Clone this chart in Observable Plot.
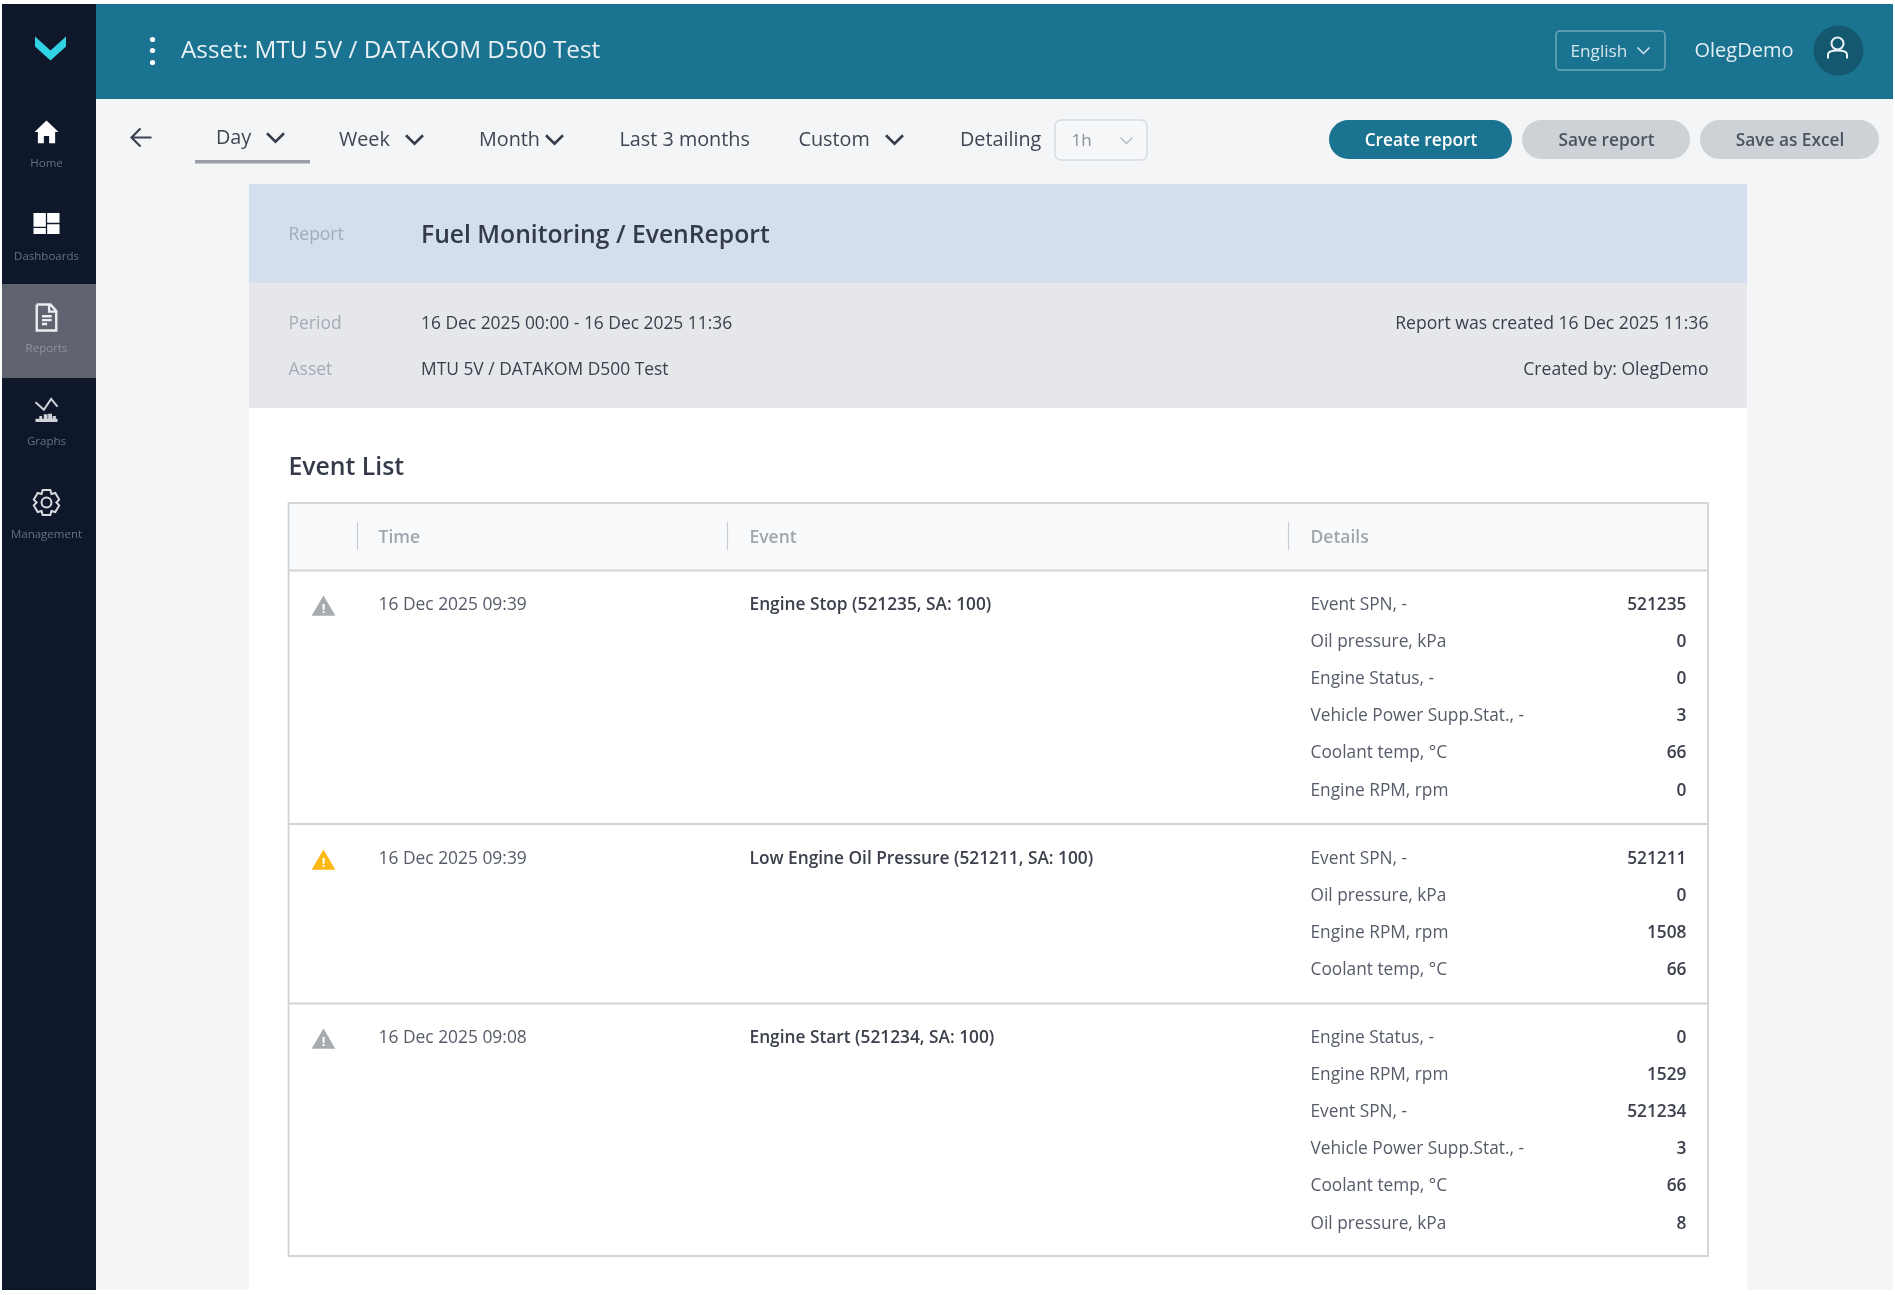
<!DOCTYPE html>
<html><head><meta charset="utf-8">
<style>html,body{margin:0;padding:0;background:#fff;overflow:hidden}svg{display:block;filter:blur(0.45px)}</style>
<script src="https://cdn.jsdelivr.net/npm/d3@7"></script>
<script src="https://cdn.jsdelivr.net/npm/@observablehq/plot@0.6"></script>
</head><body><div id="app"></div>
<script>
// ---- content
const navLabels = ["Home","Dashboards","Reports","Graphs","Management"];
const assetTitle = "Asset: MTU 5V / DATAKOM D500 Test";
const language = "English";
const userName = "OlegDemo";
const periodTabs = ["Day","Week","Month","Last 3 months","Custom","Detailing"];
const detailingValue = "1h";
const buttonLabels = ["Create report","Save report","Save as Excel"];
const reportTitle = "Fuel Monitoring / EvenReport";
const metaLabels = ["Report","Period","Asset"];
const metaValues = ["16 Dec 2025 00:00 - 16 Dec 2025 11:36","MTU 5V / DATAKOM D500 Test"];
const metaRight = ["Report was created 16 Dec 2025 11:36","Created by: OlegDemo"];
const sectionTitle = "Event List";
const tableHeaders = ["Time","Event","Details"];
const eventTimes = ["16 Dec 2025 09:39","16 Dec 2025 09:39","16 Dec 2025 09:08"];
const eventNames = ["Engine Stop (521235, SA: 100)","Low Engine Oil Pressure (521211, SA: 100)","Engine Start (521234, SA: 100)"];
const eventLevels = ["info","warning","info"];
const detailNames1 = ["Event SPN, -","Oil pressure, kPa","Engine Status, -","Vehicle Power Supp.Stat., -","Coolant temp, °C","Engine RPM, rpm"];
const detailValues1 = [521235,0,0,3,66,0];
const detailNames2 = ["Event SPN, -","Oil pressure, kPa","Engine RPM, rpm","Coolant temp, °C"];
const detailValues2 = [521211,0,1508,66];
const detailNames3 = ["Engine Status, -","Engine RPM, rpm","Event SPN, -","Vehicle Power Supp.Stat., -","Coolant temp, °C","Oil pressure, kPa"];
const detailValues3 = [0,1529,521234,3,66,8];

// ---- layout helpers
const FONT = "Open Sans";
const poly = pts => ({draw(c,size){const k=Math.sqrt(size/Math.PI);pts.forEach((p,i)=>i?c.lineTo(p[0]*k,p[1]*k):c.moveTo(p[0]*k,p[1]*k));c.closePath();}});
const open = paths => ({draw(c,size){const k=Math.sqrt(size/Math.PI);paths.forEach(pts=>pts.forEach((p,i)=>i?c.lineTo(p[0]*k,p[1]*k):c.moveTo(p[0]*k,p[1]*k)));}});
const blocks = rs => ({draw(c,size){const k=Math.sqrt(size/Math.PI);rs.forEach(([a,b,w,h])=>{c.moveTo(a*k,b*k);c.lineTo((a+w)*k,b*k);c.lineTo((a+w)*k,(b+h)*k);c.lineTo(a*k,(b+h)*k);c.closePath();});}});
const rawSym = fn => ({draw(c,size){fn(c,Math.sqrt(size/Math.PI));}});

const logoSym = poly([[-1,-.77],[0,.13],[1,-.77],[1,-.13],[0,.77],[-1,-.13]]);
const homeSym = poly([[0,-1],[1,-.05],[.72,-.05],[.72,.9],[.22,.9],[.22,.3],[-.22,.3],[-.22,.9],[-.72,.9],[-.72,-.05],[-1,-.05]]);
const dashSym = blocks([[-1,-.8,.95,1.05],[.05,-.8,.95,.75],[-1,.35,.95,.45],[.05,.05,.95,.75]]);
const chevSym = open([[[-1,-.5],[0,.5],[1,-.5]]]);
const arrowSym = open([[[1,0],[-1,0]],[[-.1,-.9],[-1,0],[-.1,.9]]]);
const docSym = open([[[-.75,-1],[.3,-1],[.75,-.5],[.75,1],[-.75,1],[-.75,-1]],[[-.35,-.1],[.4,-.1]],[[-.35,.2],[.4,.2]],[[-.35,.5],[.05,.5]],[[.2,-.95],[.2,-.45],[.7,-.45]]]);
const graphLine = open([[[-1,-.76],[-.24,-.06],[.42,-1.06],[1,-.36]]]);
const graphBars = blocks([[-1,.75,2,.3],[-.65,.5,.25,.3],[-.25,.35,.35,.45],[.15,.3,.35,.5],[.55,.5,.3,.3]]);
const gearSym = rawSym((c,k)=>{
  const n=6,pts=[];
  for(let i=0;i<n;i++){const a=i*Math.PI*2/n-Math.PI/2;const w=.3;
    pts.push([Math.cos(a-w)*1,Math.sin(a-w)*1],[Math.cos(a+w)*1,Math.sin(a+w)*1],[Math.cos(a+Math.PI/n)*.76,Math.sin(a+Math.PI/n)*.76]);}
  pts.forEach((p,i)=>i?c.lineTo(p[0]*k,p[1]*k):c.moveTo(p[0]*k,p[1]*k));c.closePath();
  c.moveTo(.38*k,0);c.arc(0,0,.38*k,0,Math.PI*2);
});
const triSym = poly([[0,-1],[1.08,.85],[-1.08,.85]]);
const userSym = rawSym((c,k)=>{
  c.moveTo(.6*k,-.5*k);c.arc(0,-.5*k,.6*k,0,Math.PI*2);
  c.moveTo(-.95*k,1*k);c.lineTo(-.95*k,.6*k);c.bezierCurveTo(-.95*k,.25*k,-.5*k,.2*k,0,.2*k);c.bezierCurveTo(.5*k,.2*k,.95*k,.25*k,.95*k,.6*k);c.lineTo(.95*k,1*k);
});

const box = (x1,x2,y1,y2,fill,o={}) => Plot.rect([0],{x1:[x1],x2:[x2],y1:[y1],y2:[y2],fill,...o});
const icon = (x,y,r,symbol,o) => Plot.dot([0],{x:[x],y:[y],r,symbol,fill:"none",...o});
const label = (texts,xs,ys,o) => Plot.text(texts,{x:(d,i)=>typeof xs==="number"?xs:xs[i],y:(d,i)=>typeof ys==="number"?ys:ys[i],text:d=>String(d),fontFamily:FONT,textAnchor:"start",lineAnchor:"middle",...o});

const TEAL="#1a7390", NAVY="#0f182a";
const navY=[163,256,348,441,534], navIconY=[132,223,317,410,502];
const tabX=[215.5,338.5,478.5,619,798,959.5], tabY=[137,139,139,139,139,139];
const rowLines=[570,823.5,1003];
const rowY=[604,858,1037];
const detailPitch=37.1;
const tableL=288.5, tableR=1708, tableT=503, tableB=1256;

const detailRows=[[detailNames1,detailValues1],[detailNames2,detailValues2],[detailNames3,detailValues3]]
  .flatMap(([n,v],g)=>n.map((name,i)=>({name,value:v[i],y:rowY[g]+i*detailPitch})));

const marks=[
  // page shell
  box(96,1893,99,1290,"#f3f5f7"),
  box(2,96,4,1290,NAVY),
  box(96,1893,4,99,TEAL),
  box(2,96,284,378,"#5f6470"),
  // nav
  icon(50,48,15.5,logoSym,{fill:"#2fd3e3"}),
  icon(46,navIconY[0],12,homeSym,{fill:"#fff"}),
  icon(46,navIconY[1],13,dashSym,{fill:"#fff"}),
  icon(46,navIconY[2],13,docSym,{stroke:"#eceDF0",strokeWidth:2.4}),
  icon(46,navIconY[3],11,graphLine,{stroke:"#cfd2d8",strokeWidth:2}),
  icon(46,navIconY[3],11,graphBars,{fill:"#cfd2d8"}),
  icon(46,navIconY[4],13,gearSym,{stroke:"#d8dade",strokeWidth:2}),
  label(navLabels,46,navY,{textAnchor:"middle",fontSize:11.5,fill:(d)=>d==="Reports"?"#8f939d":"#68717f"}),
  // header
  Plot.dot([39,50,62],{x:152,y:d=>d,r:2.6,fill:"#fff"}),
  label([assetTitle],180.5,50,{fontSize:24.3,fill:"#e9f1f4"}),
  box(1556,1665,31,70,"none",{stroke:"#6fa9bc",strokeWidth:1.5,rx:4,ry:4}),
  label([language],1570,51,{fontSize:17.2,fill:"#d7e6ec"}),
  icon(1643,50,6,chevSym,{stroke:"#d7e6ec",strokeWidth:1.5}),
  label([userName],1694,50,{fontSize:20,fill:"#e3eef2"}),
  Plot.dot([0],{x:[1838],y:[50],r:25,fill:"#14586f"}),
  icon(1837,48,10,userSym,{stroke:"#e9f1f4",strokeWidth:2}),
  // toolbar
  icon(141,137,10,arrowSym,{stroke:"#3b4250",strokeWidth:2.2}),
  box(195,310,160,163.5,"#9a9ea8"),
  label(periodTabs,tabX,tabY,{fontSize:19.8,fill:"#3f4552"}),
  ...[[275,137],[414,139],[554,139],[894,139]].map(([x,y])=>icon(x,y,8.5,chevSym,{stroke:"#333a48",strokeWidth:2.5})),
  box(1055,1147,120,160,"#f6f7f9",{stroke:"#d8dbe0",strokeWidth:1.5,rx:6,ry:6}),
  label([detailingValue],1071,140,{fontSize:17,fill:"#8a8f99"}),
  icon(1126,140,6,chevSym,{stroke:"#b9bdc4",strokeWidth:1.5}),
  box(1329,1512,120,159,TEAL,{rx:19.5,ry:19.5}),
  box(1522,1690,120,159,"#cdd2d6",{rx:19.5,ry:19.5}),
  box(1700,1879,120,159,"#cdd2d6",{rx:19.5,ry:19.5}),
  label(buttonLabels,[1420.5,1606,1789.5],139.5,{textAnchor:"middle",fontSize:17.3,fontWeight:600,fill:(d,i)=>d==="Create report"?"#fff":"#4b5360"}),
  // report panel
  box(249,1747,184,283,"#d3deee"),
  box(249,1747,283,408,"#e5e7eb"),
  box(249,1747,408,1290,"#fff"),
  label(metaLabels,288,[234,323,369],{fontSize:17.5,fill:"#a5abb6"}),
  label([reportTitle],420.5,234.5,{fontSize:24.7,fontWeight:600,fill:"#343a4a"}),
  label(metaValues,420.5,[323,369],{fontSize:17.4,fontWeight:500,fill:"#3a3f4c"}),
  label(metaRight,1708,[323,369],{fontSize:17.6,fontWeight:500,textAnchor:"end",fill:"#3a3f4c"}),
  label([sectionTitle],288,466.5,{fontSize:24.8,fontWeight:600,fill:"#343a4a"}),
  // table
  box(tableL,tableR,tableT,rowLines[0],"#f9fafb"),
  box(tableL,tableR,tableT,tableB,"none",{stroke:"#cfd3d6",strokeWidth:1.8}),
  Plot.ruleY(rowLines,{x1:tableL,x2:tableR,y:d=>d,stroke:"#cfd3d6",strokeWidth:1.8}),
  Plot.ruleX([357,727,1288],{x:d=>d,y1:522,y2:550,stroke:"#c9cdd1",strokeWidth:1.2}),
  label(tableHeaders,[378,749,1310],537,{fontSize:17.5,fontWeight:600,fill:"#a0a6ae"}),
  ...rowY.map((y,i)=>icon(323,y+2,11,triSym,{fill:eventLevels[i]==="warning"?"#fdb913":"#a8abae"})),
  Plot.text(rowY,{x:323,y:d=>d+4,text:()=>"!",fontFamily:FONT,fontSize:13,fontWeight:700,fill:"#fff"}),
  label(eventTimes,378,rowY,{fontSize:17.4,fill:"#555b68"}),
  label(eventNames,749,rowY,{fontSize:17.3,fontWeight:600,fill:"#3b404c"}),
  Plot.text(detailRows,{x:1310,y:"y",text:"name",fontFamily:FONT,fontSize:17.3,textAnchor:"start",fill:"#555b68"}),
  Plot.text(detailRows,{x:1686,y:"y",text:d=>String(d.value),fontFamily:FONT,fontSize:17.3,fontWeight:600,textAnchor:"end",fill:"#3b404c"})
];

const chart=Plot.plot({width:1895,height:1295,margin:0,
  x:{axis:null,domain:[0,1895],range:[0,1895]},
  y:{axis:null,domain:[0,1295],range:[0,1295]},
  style:{background:"transparent"},marks});
document.getElementById("app").append(chart);
</script></body></html>
